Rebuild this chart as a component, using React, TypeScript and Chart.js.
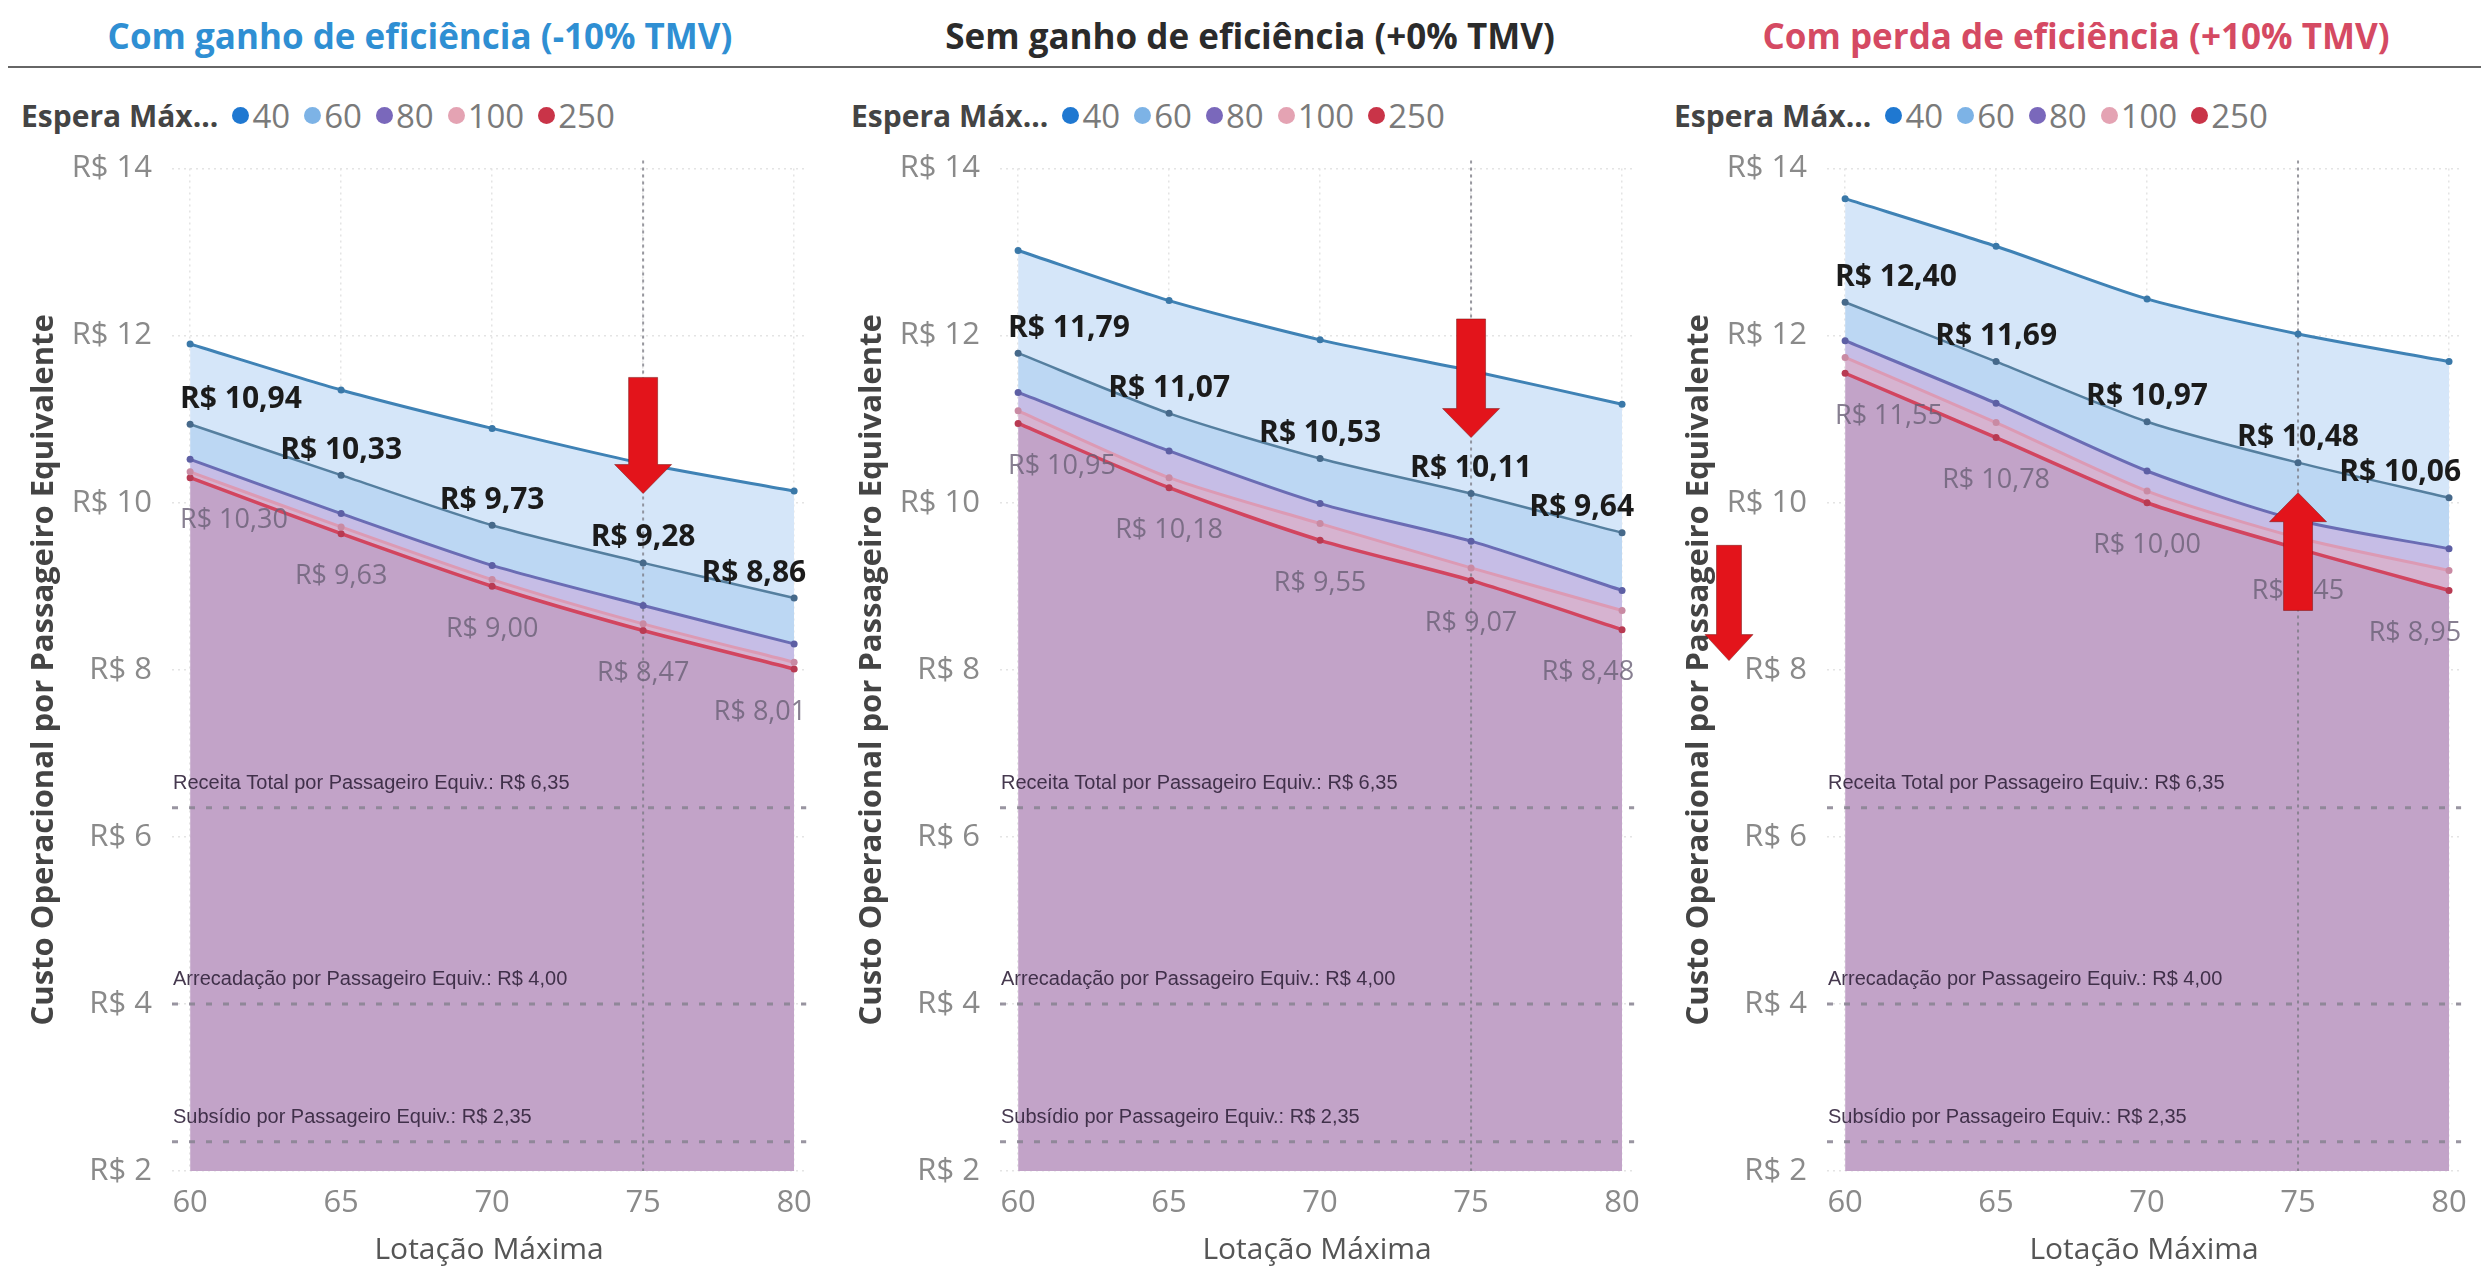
import React, { useEffect, useRef } from 'react';
import { Chart, registerables } from 'chart.js';

Chart.register(...registerables);

// ---------- data ----------
const lotacao = [60, 65, 70, 75, 80];
const esperaMax = ['40', '60', '80', '100', '250'];
const legendTitle = 'Espera Máx...';
const panelTitles = [
  'Com ganho de eficiência (-10% TMV)',
  'Sem ganho de eficiência (+0% TMV)',
  'Com perda de eficiência (+10% TMV)',
];
const yTicks = [2, 4, 6, 8, 10, 12, 14];

const ganho40 = [11.9, 11.35, 10.89, 10.47, 10.14];
const ganho60 = [10.94, 10.33, 9.73, 9.28, 8.86];
const ganho80 = [10.52, 9.87, 9.25, 8.77, 8.31];
const ganho100 = [10.37, 9.71, 9.08, 8.55, 8.09];
const ganho250 = [10.3, 9.63, 9.0, 8.47, 8.01];

const sem40 = [13.02, 12.42, 11.95, 11.58, 11.18];
const sem60 = [11.79, 11.07, 10.53, 10.11, 9.64];
const sem80 = [11.32, 10.62, 9.99, 9.54, 8.95];
const sem100 = [11.1, 10.3, 9.75, 9.22, 8.71];
const sem250 = [10.95, 10.18, 9.55, 9.07, 8.48];

const perda40 = [13.64, 13.07, 12.44, 12.02, 11.69];
const perda60 = [12.4, 11.69, 10.97, 10.48, 10.06];
const perda80 = [11.94, 11.19, 10.38, 9.79, 9.45];
const perda100 = [11.74, 10.96, 10.14, 9.58, 9.19];
const perda250 = [11.55, 10.78, 10.0, 9.45, 8.95];

const refValues = [6.35, 4.0, 2.35];
const refLabels = [
  'Receita Total por Passageiro Equiv.: R$ 6,35',
  'Arrecadação por Passageiro Equiv.: R$ 4,00',
  'Subsídio por Passageiro Equiv.: R$ 2,35',
];
const highlightLotacao = 75;

// annotation arrows (data units)
const arrowsGanho = [{ x: 75, from: 11.5, to: 10.11 }];
const arrowsSem = [{ x: 75, from: 12.2, to: 10.78 }];
const arrowsPerda = [
  { x: 75, from: 8.71, to: 10.12 },
  { x: null, from: 9.49, to: 8.11 },
];

const panelSeries = [
  [ganho40, ganho60, ganho80, ganho100, ganho250],
  [sem40, sem60, sem80, sem100, sem250],
  [perda40, perda60, perda80, perda100, perda250],
];
const panelArrows = [arrowsGanho, arrowsSem, arrowsPerda];

// ---------- styles ----------
const titleColors = ['#2f8fd3', '#2b2b2b', '#d54a63'];
const legendDotColors = ['#1f78d1', '#7db3e6', '#7a68bb', '#e4a3b3', '#c93448'];
const lineColors = ['#3f82b5', '#557f9f', '#6a6cb4', '#dc9ab4', '#d2455f'];
const pointColors = ['#3a78a8', '#46698a', '#5d5fa4', '#c98aa3', '#b83a52'];
const bandColors = ['#d5e6f9', '#bcd7f3', '#c6bde6', '#d6b3d0', '#c2a3c8'];
const lineWidths = [3, 2.5, 3, 3, 3.5];

const panelLayout = [
  { left: 0, padR: 8, titleX: 420, legendX: 21 },
  { left: 828, padR: 12, titleX: 1250, legendX: 851 },
  { left: 1655, padR: 14, titleX: 2076, legendX: 1674 },
];
const CANVAS_TOP = 130;
const CANVAS_W = 826;
const CANVAS_H = 1268 - CANVAS_TOP;
const FONT = '"Open Sans", "DejaVu Sans", sans-serif';

const fmt = (v: number) => 'R$ ' + v.toFixed(2).replace('.', ',');

function drawArrow(ctx: CanvasRenderingContext2D, x: number, y1: number, y2: number, shaftW: number, headW: number, headL: number) {
  const dir = Math.sign(y2 - y1);
  const yb = y2 - dir * headL;
  ctx.beginPath();
  ctx.moveTo(x - shaftW / 2, y1);
  ctx.lineTo(x + shaftW / 2, y1);
  ctx.lineTo(x + shaftW / 2, yb);
  ctx.lineTo(x + headW / 2, yb);
  ctx.lineTo(x, y2);
  ctx.lineTo(x - headW / 2, yb);
  ctx.lineTo(x - shaftW / 2, yb);
  ctx.closePath();
  ctx.fillStyle = '#e3141b';
  ctx.fill();
  ctx.lineWidth = 1;
  ctx.strokeStyle = 'rgba(120,20,20,0.5)';
  ctx.stroke();
}

function makeOverlay(pi: number) {
  return {
    id: 'overlay' + pi,
    beforeDatasetsDraw(chart: any) {
      const { ctx, chartArea: ca, scales } = chart;
      const x = scales.x;
      const y = scales.y;
      ctx.save();
      const vx = x.getPixelForValue(highlightLotacao);
      ctx.strokeStyle = 'rgba(120,120,130,0.75)';
      ctx.lineWidth = 2;
      ctx.setLineDash([3, 4]);
      ctx.beginPath();
      ctx.moveTo(vx, ca.top - 8);
      ctx.lineTo(vx, ca.bottom);
      ctx.stroke();
      ctx.setLineDash([6, 11]);
      ctx.lineWidth = 3;
      ctx.strokeStyle = 'rgba(135,130,145,0.85)';
      refValues.forEach((v) => {
        const py = y.getPixelForValue(v);
        ctx.beginPath();
        ctx.moveTo(ca.left, py);
        ctx.lineTo(ca.right, py);
        ctx.stroke();
      });
      ctx.restore();
    },
    afterDatasetsDraw(chart: any) {
      const { ctx, chartArea: ca, scales } = chart;
      const y = scales.y;
      const x = scales.x;
      ctx.save();
      // reference labels
      ctx.font = '20px "Liberation Sans", Arial, sans-serif';
      ctx.fillStyle = 'rgba(50,35,60,0.9)';
      ctx.textAlign = 'left';
      ctx.textBaseline = 'middle';
      refValues.forEach((v, i) => {
        ctx.fillText(refLabels[i], ca.left + 1, y.getPixelForValue(v) - 24);
      });
      // data labels: series "60" bold above, series "250" grey below
      const series = panelSeries[pi];
      const drawLabels = (si: number, font: string, color: string, dy: number) => {
        const meta = chart.getDatasetMeta(si);
        ctx.font = font;
        ctx.fillStyle = color;
        ctx.textAlign = 'center';
        meta.data.forEach((pt: any, i: number) => {
          const t = fmt(series[si][i]);
          const w = ctx.measureText(t).width;
          const cx = Math.min(Math.max(pt.x, ca.left + 8 + w / 2), ca.right - w / 2);
          ctx.fillText(t, cx, pt.y + dy);
        });
      };
      drawLabels(4, '27px ' + FONT, 'rgba(105,95,118,0.8)', 43);
      drawLabels(1, 'bold 30px ' + FONT, '#1b1b1b', -25);
      ctx.restore();
      // arrows
      ctx.save();
      panelArrows[pi].forEach((a) => {
        const ax = a.x === null ? ca.left - 98 : x.getPixelForValue(a.x);
        const small = a.x === null;
        drawArrow(ctx, ax, y.getPixelForValue(a.from), y.getPixelForValue(a.to), small ? 25 : 29, small ? 48 : 57, small ? 26 : 29);
      });
      ctx.restore();
    },
  };
}

function PanelChart({ pi }: { pi: number }) {
  const ref = useRef<HTMLCanvasElement>(null);
  useEffect(() => {
    const series = panelSeries[pi];
    const lay = panelLayout[pi];
    const datasets = esperaMax.map((name, si) => ({
      label: name,
      data: lotacao.map((lx, i) => ({ x: lx, y: series[si][i] })),
      borderColor: lineColors[si],
      backgroundColor: bandColors[si],
      fill: si < esperaMax.length - 1 ? '+1' : 'start',
      borderWidth: lineWidths[si],
      pointRadius: 3.5,
      pointBackgroundColor: pointColors[si],
      pointBorderWidth: 0,
      tension: 0.25,
    }));
    const chart = new Chart(ref.current as HTMLCanvasElement, {
      type: 'line',
      data: { datasets } as any,
      plugins: [makeOverlay(pi)],
      options: {
        animation: false,
        responsive: false,
        layout: { padding: { top: 38, right: lay.padR, bottom: 0, left: 0 } },
        plugins: {
          legend: { display: false },
          tooltip: { enabled: false },
          filler: { drawTime: 'beforeDatasetsDraw' },
        },
        scales: {
          x: {
            type: 'linear',
            min: 59.4,
            max: 80.4,
            afterBuildTicks: (s: any) => {
              s.ticks = lotacao.map((v) => ({ value: v }));
            },
            afterFit: (s: any) => {
              s.height = 97;
            },
            grid: { color: '#e4e4e4', drawTicks: false, lineWidth: 1.5 },
            border: { display: false, dash: [2, 4] },
            ticks: {
              color: '#8a8a8a',
              font: { family: FONT, size: 31 },
              padding: 14,
              maxRotation: 0,
              autoSkip: false,
              callback: (v: any) => String(v),
            },
            title: {
              display: true,
              text: 'Lotação Máxima',
              color: '#555555',
              font: { family: FONT, size: 30 },
              padding: { top: 0, bottom: 0 },
            },
          },
          y: {
            type: 'linear',
            min: 2,
            max: 14,
            afterBuildTicks: (s: any) => {
              s.ticks = yTicks.map((v) => ({ value: v }));
            },
            afterFit: (s: any) => {
              s.width = 172;
            },
            grid: { color: '#e4e4e4', drawTicks: false, lineWidth: 1.5 },
            border: { display: false, dash: [2, 4] },
            ticks: {
              color: '#8a8a8a',
              font: { family: FONT, size: 31 },
              padding: 20,
              callback: (v: any) => 'R$ ' + v,
            },
            title: {
              display: true,
              text: 'Custo Operacional por Passageiro Equivalente',
              color: '#444444',
              font: { family: FONT, size: 31, weight: 'bold' },
              padding: { top: 26, bottom: 0 },
            },
          },
        },
      } as any,
    });
    return () => chart.destroy();
  }, [pi]);
  const lay = panelLayout[pi];
  return (
    <canvas
      ref={ref}
      width={CANVAS_W}
      height={CANVAS_H}
      style={{ position: 'absolute', left: lay.left, top: CANVAS_TOP, width: CANVAS_W, height: CANVAS_H }}
    />
  );
}

function Legend({ pi }: { pi: number }) {
  const lay = panelLayout[pi];
  return (
    <div
      style={{
        position: 'absolute',
        left: lay.legendX,
        top: 94,
        height: 42,
        display: 'flex',
        alignItems: 'center',
        fontFamily: FONT,
        whiteSpace: 'nowrap',
      }}
    >
      <span style={{ fontWeight: 700, fontSize: 30, color: '#444', marginRight: 14 }}>{legendTitle}</span>
      {esperaMax.map((name, i) => (
        <span key={name} style={{ display: 'flex', alignItems: 'center', marginRight: 14 }}>
          <span
            style={{
              width: 17,
              height: 17,
              borderRadius: 9,
              background: legendDotColors[i],
              display: 'inline-block',
              marginRight: 3,
            }}
          />
          <span style={{ fontSize: 33, color: '#7a7a7a' }}>{name}</span>
        </span>
      ))}
    </div>
  );
}

export default function App() {
  return (
    <div
      style={{
        position: 'fixed',
        left: 0,
        top: 0,
        width: 2481,
        height: 1268,
        background: '#ffffff',
        overflow: 'hidden',
        fontFamily: FONT,
      }}
    >
      {panelTitles.map((t, i) => (
        <div
          key={t}
          style={{
            position: 'absolute',
            left: panelLayout[i].titleX,
            top: 14,
            transform: 'translateX(-50%)',
            fontSize: 35,
            lineHeight: '44px',
            fontWeight: 700,
            color: titleColors[i],
            whiteSpace: 'nowrap',
          }}
        >
          {t}
        </div>
      ))}
      <div style={{ position: 'absolute', left: 8, right: 0, top: 66, height: 2, background: '#666' }} />
      {[0, 1, 2].map((i) => (
        <Legend key={'l' + i} pi={i} />
      ))}
      {[0, 1, 2].map((i) => (
        <PanelChart key={'c' + i} pi={i} />
      ))}
    </div>
  );
}
